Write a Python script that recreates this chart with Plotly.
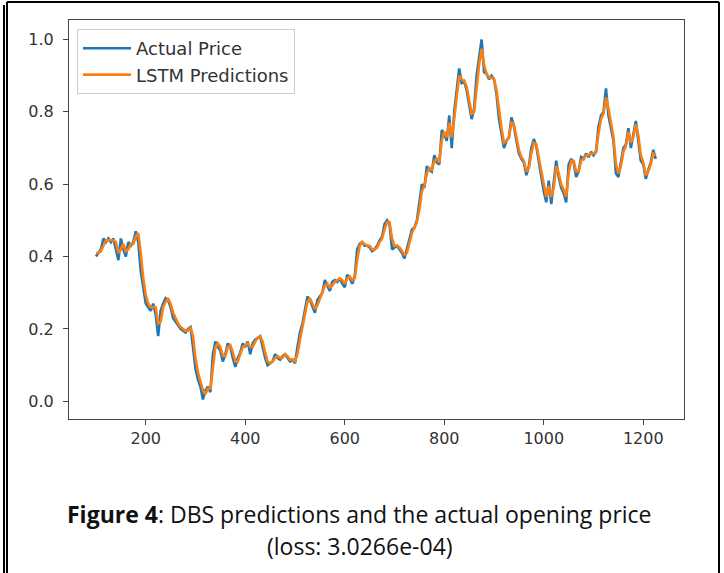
import plotly.graph_objects as go

# Test-window time steps (every 5th day from 100 to 1225)
time_step = list(range(100, 1226, 5))

# Normalised DBS opening price
actual_price = [
    0.40, 0.41, 0.42, 0.45, 0.44, 0.45, 0.44, 0.45, 0.42, 0.39,
    0.45, 0.42, 0.40, 0.44, 0.43, 0.44, 0.47, 0.44, 0.36, 0.31,
    0.27, 0.26, 0.25, 0.27, 0.24, 0.18, 0.25, 0.27, 0.285, 0.28,
    0.26, 0.23, 0.22, 0.21, 0.20, 0.195, 0.19, 0.20, 0.205, 0.15,
    0.09, 0.06, 0.04, 0.005, 0.03, 0.04, 0.025, 0.13, 0.165, 0.15,
    0.14, 0.11, 0.13, 0.16, 0.15, 0.12, 0.095, 0.12, 0.135, 0.16,
    0.15, 0.165, 0.13, 0.16, 0.17, 0.175, 0.18, 0.15, 0.12, 0.10,
    0.105, 0.11, 0.13, 0.12, 0.115, 0.125, 0.13, 0.12, 0.11, 0.115,
    0.105, 0.15, 0.19, 0.215, 0.25, 0.29, 0.28, 0.26, 0.245, 0.28,
    0.29, 0.30, 0.335, 0.32, 0.305, 0.33, 0.335, 0.33, 0.34, 0.325,
    0.315, 0.35, 0.34, 0.325, 0.345, 0.42, 0.435, 0.44, 0.43, 0.43,
    0.425, 0.415, 0.42, 0.43, 0.445, 0.455, 0.49, 0.50, 0.49, 0.42,
    0.425, 0.43, 0.42, 0.41, 0.395, 0.42, 0.45, 0.475, 0.48, 0.50,
    0.55, 0.60, 0.59, 0.65, 0.64, 0.635, 0.68, 0.66, 0.655, 0.75,
    0.74, 0.72, 0.79, 0.70, 0.80, 0.86, 0.92, 0.88, 0.885, 0.86,
    0.82, 0.78, 0.81, 0.90, 0.95, 1.00, 0.91, 0.905, 0.89, 0.90,
    0.89, 0.85, 0.78, 0.74, 0.70, 0.72, 0.73, 0.785, 0.76, 0.72,
    0.685, 0.67, 0.66, 0.625, 0.65, 0.70, 0.725, 0.705, 0.66, 0.62,
    0.58, 0.55, 0.61, 0.545, 0.60, 0.665, 0.62, 0.59, 0.575, 0.55,
    0.655, 0.67, 0.66, 0.62, 0.635, 0.675, 0.67, 0.685, 0.675, 0.69,
    0.68, 0.69, 0.76, 0.79, 0.80, 0.865, 0.79, 0.75, 0.72, 0.63,
    0.62, 0.66, 0.70, 0.71, 0.755, 0.70, 0.74, 0.775, 0.72, 0.665,
    0.655, 0.615, 0.64, 0.66, 0.695, 0.67,
]

# LSTM model output on the same window
lstm_predictions = [
    0.41, 0.41, 0.415, 0.43, 0.445, 0.445, 0.445, 0.445, 0.44, 0.41,
    0.42, 0.435, 0.415, 0.42, 0.435, 0.435, 0.455, 0.465, 0.41, 0.34,
    0.295, 0.27, 0.26, 0.26, 0.26, 0.215, 0.22, 0.26, 0.275, 0.285,
    0.27, 0.245, 0.23, 0.215, 0.205, 0.20, 0.195, 0.195, 0.205, 0.18,
    0.12, 0.08, 0.055, 0.03, 0.02, 0.035, 0.035, 0.09, 0.15, 0.16,
    0.15, 0.125, 0.125, 0.15, 0.155, 0.135, 0.11, 0.11, 0.13, 0.15,
    0.155, 0.16, 0.15, 0.15, 0.165, 0.175, 0.18, 0.165, 0.135, 0.11,
    0.105, 0.11, 0.12, 0.125, 0.12, 0.12, 0.13, 0.125, 0.115, 0.115,
    0.11, 0.13, 0.17, 0.205, 0.235, 0.275, 0.285, 0.27, 0.255, 0.265,
    0.285, 0.30, 0.32, 0.325, 0.315, 0.32, 0.33, 0.335, 0.34, 0.335,
    0.325, 0.34, 0.345, 0.335, 0.34, 0.39, 0.43, 0.44, 0.435, 0.43,
    0.43, 0.42, 0.42, 0.425, 0.44, 0.45, 0.475, 0.495, 0.495, 0.45,
    0.43, 0.43, 0.425, 0.415, 0.405, 0.41, 0.44, 0.465, 0.48, 0.495,
    0.53, 0.58, 0.595, 0.63, 0.645, 0.64, 0.665, 0.67, 0.66, 0.72,
    0.745, 0.73, 0.77, 0.73, 0.78, 0.84, 0.90, 0.89, 0.885, 0.87,
    0.835, 0.795, 0.80, 0.87, 0.93, 0.975, 0.93, 0.905, 0.895, 0.895,
    0.89, 0.86, 0.80, 0.755, 0.715, 0.72, 0.73, 0.77, 0.765, 0.73,
    0.695, 0.675, 0.665, 0.635, 0.645, 0.685, 0.715, 0.71, 0.675, 0.635,
    0.595, 0.565, 0.595, 0.565, 0.59, 0.65, 0.63, 0.60, 0.585, 0.565,
    0.63, 0.665, 0.665, 0.635, 0.635, 0.665, 0.67, 0.68, 0.68, 0.685,
    0.685, 0.69, 0.74, 0.78, 0.795, 0.84, 0.81, 0.765, 0.73, 0.655,
    0.63, 0.65, 0.69, 0.705, 0.745, 0.715, 0.73, 0.765, 0.735, 0.68,
    0.66, 0.625, 0.635, 0.655, 0.685, 0.68,
]

x_ticks = [200, 400, 600, 800, 1000, 1200]
y_ticks = [0.0, 0.2, 0.4, 0.6, 0.8, 1.0]

caption_line1 = "<b>Figure 4</b>: DBS predictions and the actual opening price"
caption_line2 = "(loss: 3.0266e-04)"

fig = go.Figure()
fig.add_trace(go.Scatter(
    x=time_step, y=actual_price, mode="lines", name="Actual Price",
    line=dict(color="#1f77b4", width=2.6),
))
fig.add_trace(go.Scatter(
    x=time_step, y=lstm_predictions, mode="lines", name="LSTM Predictions",
    line=dict(color="#ff7f0e", width=2.6),
))

W, H = 724, 573
L, R, T, B = 69, 40, 20, 153.5
pw, ph = W - L - R, H - T - B


def px_x(p):
    return (p - L) / pw


def px_y(p):
    return (H - B - p) / ph


axis_common = dict(
    showline=True, mirror=True, linecolor="#444", linewidth=1.2,
    ticks="outside", ticklen=5, tickwidth=1.1, tickcolor="#444",
    showgrid=False, zeroline=False,
    tickfont=dict(family="DejaVu Sans", size=16, color="#333"),
)

fig.update_layout(
    width=W, height=H,
    margin=dict(l=L, r=R, t=T, b=B),
    paper_bgcolor="white", plot_bgcolor="white",
    xaxis=dict(range=[45.8, 1281.8], tickvals=x_ticks, **axis_common),
    yaxis=dict(range=[-0.049, 1.054], tickvals=y_ticks, tickformat=".1f",
               ticklabelstandoff=6, **axis_common),
    legend=dict(
        x=px_x(77), y=px_y(29), xanchor="left", yanchor="top",
        bgcolor="rgba(255,255,255,0.85)", bordercolor="#cccccc", borderwidth=1,
        font=dict(family="DejaVu Sans", size=18, color="#333"),
        itemwidth=48,
    ),
    showlegend=True,
)

# Caption under the chart
caption_font = dict(family="Open Sans", size=23, color="#111")
fig.add_annotation(text=caption_line1, xref="paper", yref="paper",
                   x=px_x(359), y=px_y(515), xanchor="center", yanchor="middle",
                   showarrow=False, font=caption_font)
fig.add_annotation(text=caption_line2, xref="paper", yref="paper",
                   x=px_x(360), y=px_y(547), xanchor="center", yanchor="middle",
                   showarrow=False, font=caption_font)

# Outer frame around the figure and caption
fig.add_shape(type="line", xref="paper", yref="paper",
              x0=px_x(7), x1=px_x(719), y0=px_y(2), y1=px_y(2),
              line=dict(color="black", width=2))
fig.add_shape(type="line", xref="paper", yref="paper",
              x0=px_x(7), x1=px_x(7), y0=px_y(2), y1=px_y(600),
              line=dict(color="black", width=2))
fig.add_shape(type="line", xref="paper", yref="paper",
              x0=px_x(4), x1=px_x(4), y0=px_y(5), y1=px_y(600),
              line=dict(color="black", width=2))
fig.add_shape(type="line", xref="paper", yref="paper",
              x0=px_x(719), x1=px_x(719), y0=px_y(2), y1=px_y(600),
              line=dict(color="black", width=2))

fig.write_html("out.html")
